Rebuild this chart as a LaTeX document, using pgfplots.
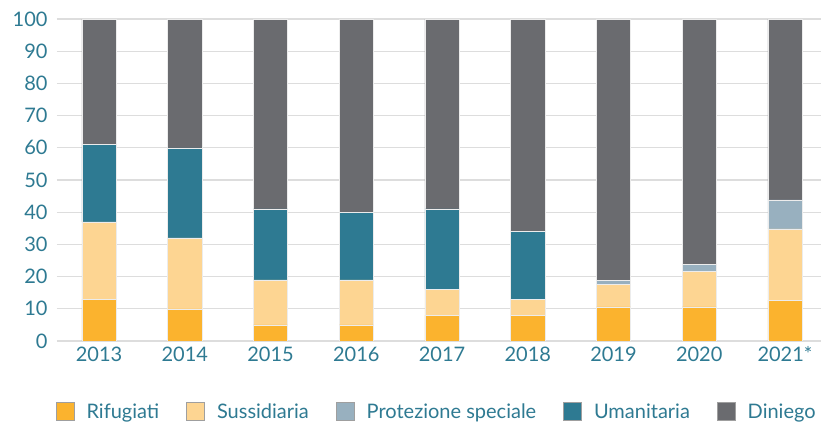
\documentclass[border=0pt]{standalone}
\usepackage{fontspec}
\setmainfont{Lato}
\usepackage{pgfplots}
\usepackage{pgfplotstable}
\pgfplotsset{compat=1.18}
\definecolor{rif}{HTML}{FBB32E}
\definecolor{sus}{HTML}{FDD592}
\definecolor{pro}{HTML}{98B0BF}
\definecolor{uma}{HTML}{2E7A92}
\definecolor{din}{HTML}{6A6B6F}
\definecolor{txt}{HTML}{2E7A92}
\definecolor{grd}{HTML}{DDDDDD}

% x  rif  sus  pro  uma  din
\pgfplotstableread{
x rif sus pro uma din
0 13 24 0 24 39
1 10 22 0 28 40
2 5 14 0 22 59
3 5 14 0 21 60
4 8 8 0 25 59
5 8 5 0 21 66
6 10.6 7.1 1.2 0 81.1
7 10.6 11.1 2.2 0 76.1
8 12.7 22.1 9 0 56.2
}\data

\begin{document}
\begin{tikzpicture}
\begin{axis}[
    name=ax,
    scale only axis,
    width=764pt, height=322pt,
    ybar stacked,
    bar width=0.4,
    xmin=-0.49, xmax=8.42,
    ymin=0, ymax=100,
    ytick={0,10,...,100},
    xtick=data,
    xticklabels={2013,2014,2015,2016,2017,2018,2019,2020,2021*},
    axis line style={draw=none},
    major tick length=0pt,
    ymajorgrids,
    grid style={grd, line width=1.2pt},
    tick label style={font=\fontsize{20}{24}\selectfont, text=txt},
    /pgf/number format/assume math mode=true,
    yticklabel style={xshift=-6pt},
    xticklabel style={yshift=-2pt},
    legend columns=5,
    legend style={at={(0.497,-0.22)}, anchor=center, draw=none,
        font=\fontsize{20}{24}\selectfont, text=txt,
        /tikz/every odd column/.append style={column sep=10pt},
        /tikz/every even column/.append style={column sep=25pt}},
    legend image code/.code={\draw[#1,draw=gray!75,line width=0.8pt] (0pt,-9pt) rectangle (18pt,9pt);},
]
\addplot[fill=rif, draw=white!85!gray, line width=0.5pt] table[x=x,y=rif] {\data};
\addplot[fill=sus, draw=white!85!gray, line width=0.5pt] table[x=x,y=sus] {\data};
\addplot[fill=pro, draw=white!85!gray, line width=0.5pt] table[x=x,y=pro] {\data};
\addplot[fill=uma, draw=white!85!gray, line width=0.5pt] table[x=x,y=uma] {\data};
\addplot[fill=din, draw=white!85!gray, line width=0.5pt] table[x=x,y=din] {\data};
\legend{Rifugiati,Sussidiaria,Protezione speciale,Umanitaria,Diniego}
\end{axis}
\pgfresetboundingbox
\path ([xshift=-57pt,yshift=-85pt]ax.south west) rectangle ([yshift=19pt]ax.north east);
\end{tikzpicture}
\end{document}
